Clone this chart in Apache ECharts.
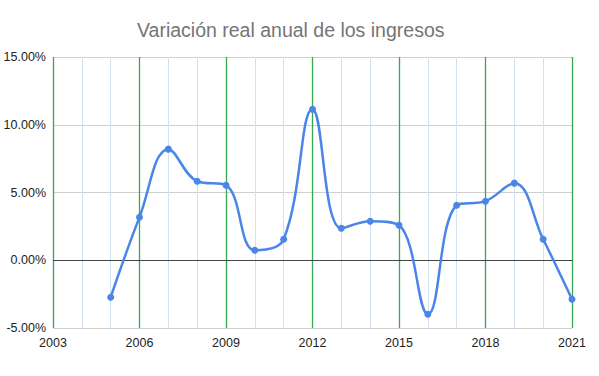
<!DOCTYPE html>
<html>
<head>
<meta charset="utf-8">
<script src="https://cdn.jsdelivr.net/npm/echarts@6/dist/echarts.min.js"></script>
<style>
  html, body { margin: 0; padding: 0; background: #fff; }
  #container { width: 599px; height: 376px; }
</style>
</head>
<body>
<div id="container"></div>
<script>
const years = [2005, 2006, 2007, 2008, 2009, 2010, 2011, 2012, 2013, 2014, 2015, 2016, 2017, 2018, 2019, 2020, 2021];
const variacion = [-2.73, 3.18, 8.2, 5.83, 5.54, 0.74, 1.55, 11.15, 2.36, 2.88, 2.58, -3.99, 4.06, 4.36, 5.69, 1.55, -2.88];
const titulo = 'Variación real anual de los ingresos';

const chart = echarts.init(document.getElementById('container'), null, { renderer: 'svg' });

chart.setOption({
    animation: false,
    title: {
        text: titulo,
        left: 132,
        top: 15,
        textStyle: { color: '#757575', fontSize: 19.5, fontWeight: 'normal', fontFamily: 'Liberation Sans, Arial' },
    },
    grid: { left: 53, right: 27, top: 57, bottom: 48 },
    xAxis: {
        type: 'value',
        min: 2003,
        max: 2021,
        interval: 3,
        axisLine: { show: false, onZero: false },
        axisTick: { show: false },
        axisLabel: {
            color: '#222', fontSize: 12.5, fontFamily: 'Liberation Sans, Arial', margin: 8,
            formatter: (v) => String(v),
        },
        splitLine: { show: true, lineStyle: { color: '#34a853', width: 1.3 } },
        minorTick: { show: false, splitNumber: 3 },
        minorSplitLine: { show: true, lineStyle: { color: '#cfe2f3', width: 1 } },
    },
    yAxis: {
        type: 'value',
        min: -5,
        max: 15,
        interval: 5,
        axisLine: { show: false },
        axisTick: { show: false },
        axisLabel: {
            color: '#222', fontSize: 12.5, fontFamily: 'Liberation Sans, Arial', margin: 7,
            formatter: (v) => v.toFixed(2) + '%',
        },
        splitLine: { show: true, lineStyle: { color: '#d0d0d0', width: 1 } },
    },
    series: [{
        type: 'line',
        data: years.map((y, i) => [y, variacion[i]]),
        smooth: 0.4,
        symbol: 'circle',
        symbolSize: 7,
        lineStyle: { color: '#4a86e8', width: 2.5 },
        itemStyle: { color: '#4a86e8' },
        markLine: {
            silent: true,
            symbol: 'none',
            label: { show: false },
            lineStyle: { color: '#444', type: 'solid', width: 1 },
            data: [{ yAxis: 0 }],
            z: 1,
        },
        z: 3,
    }],
});
</script>
</body>
</html>
